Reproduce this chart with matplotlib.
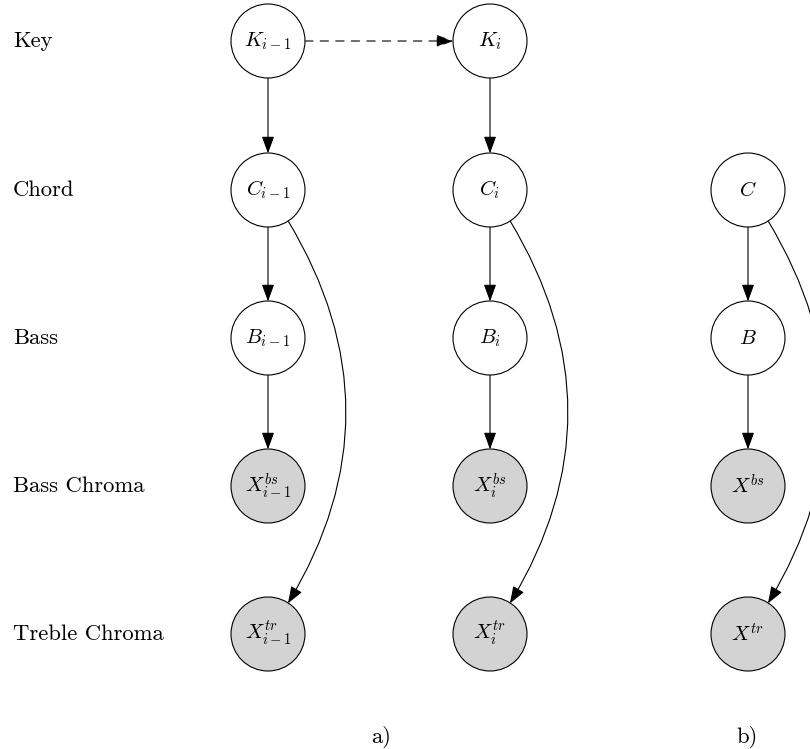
import matplotlib
matplotlib.use("Agg")
import matplotlib.pyplot as plt
from matplotlib.patches import Circle, FancyArrowPatch

plt.rcParams["mathtext.fontset"] = "cm"

# Row names (variables) and node layout of the dynamic Bayesian network
row_labels = ["Key", "Chord", "Bass", "Bass Chroma", "Treble Chroma"]
row_y = [41, 190, 338, 486, 634]
col_x = [268, 490, 748]
panel_labels = ["a)", "b)"]
panel_label_x = [381, 747]

# node id -> (column, row, label, observed)
nodes = {
    "K0": (0, 0, r"$K_{i-1}$", False),
    "C0": (0, 1, r"$C_{i-1}$", False),
    "B0": (0, 2, r"$B_{i-1}$", False),
    "XB0": (0, 3, r"$X^{bs}_{i-1}$", True),
    "XT0": (0, 4, r"$X^{tr}_{i-1}$", True),
    "K1": (1, 0, r"$K_{i}$", False),
    "C1": (1, 1, r"$C_{i}$", False),
    "B1": (1, 2, r"$B_{i}$", False),
    "XB1": (1, 3, r"$X^{bs}_{i}$", True),
    "XT1": (1, 4, r"$X^{tr}_{i}$", True),
    "C2": (2, 1, r"$C$", False),
    "B2": (2, 2, r"$B$", False),
    "XB2": (2, 3, r"$X^{bs}$", True),
    "XT2": (2, 4, r"$X^{tr}$", True),
}

straight_edges = [("K0", "C0"), ("C0", "B0"), ("B0", "XB0"),
                  ("K1", "C1"), ("C1", "B1"), ("B1", "XB1"),
                  ("C2", "B2"), ("B2", "XB2")]
curved_edges = [("C0", "XT0"), ("C1", "XT1"), ("C2", "XT2")]
dashed_edges = [("K0", "K1")]

W, H = 810, 749
R = 37

fig = plt.figure(figsize=(W / 100, H / 100), dpi=100)
ax = fig.add_axes([0, 0, 1, 1])
ax.set_xlim(0, W)
ax.set_ylim(H, 0)
ax.set_aspect("equal")
ax.axis("off")

circles = {}
for key, (c, r, label, observed) in nodes.items():
    x, y = col_x[c], row_y[r]
    circ = Circle((x, y), R, facecolor="#d3d3d3" if observed else "white",
                  edgecolor="black", linewidth=0.8, zorder=2)
    ax.add_patch(circ)
    circles[key] = circ
    ax.text(x, y, label, ha="center", va="center", fontsize=15, zorder=3)


def center(key):
    c, r, _, _ = nodes[key]
    return col_x[c], row_y[r]


arrow_kw = dict(arrowstyle="-|>,head_length=0.52,head_width=0.19",
                mutation_scale=20, color="black", linewidth=0.8,
                shrinkA=0, shrinkB=0, zorder=1)

for a, b in straight_edges:
    ax.add_patch(FancyArrowPatch(center(a), center(b),
                                 patchA=circles[a], patchB=circles[b],
                                 **arrow_kw))

for a, b in curved_edges:
    ax.add_patch(FancyArrowPatch(center(a), center(b),
                                 patchA=circles[a], patchB=circles[b],
                                 connectionstyle="arc3,rad=-0.35",
                                 **arrow_kw))

for a, b in dashed_edges:
    ax.add_patch(FancyArrowPatch(center(a), center(b),
                                 patchA=circles[a], patchB=circles[b],
                                 linestyle=(0, (7.5, 6.5)), **arrow_kw))

for name, y in zip(row_labels, row_y):
    ax.text(13, y, name, ha="left", va="center", fontsize=16.3,
            family="cmr10")

for lab, x in zip(panel_labels, panel_label_x):
    ax.text(x, 737, lab, ha="center", va="center", fontsize=16.3,
            family="cmr10")

fig.savefig("out.png", dpi=100)
